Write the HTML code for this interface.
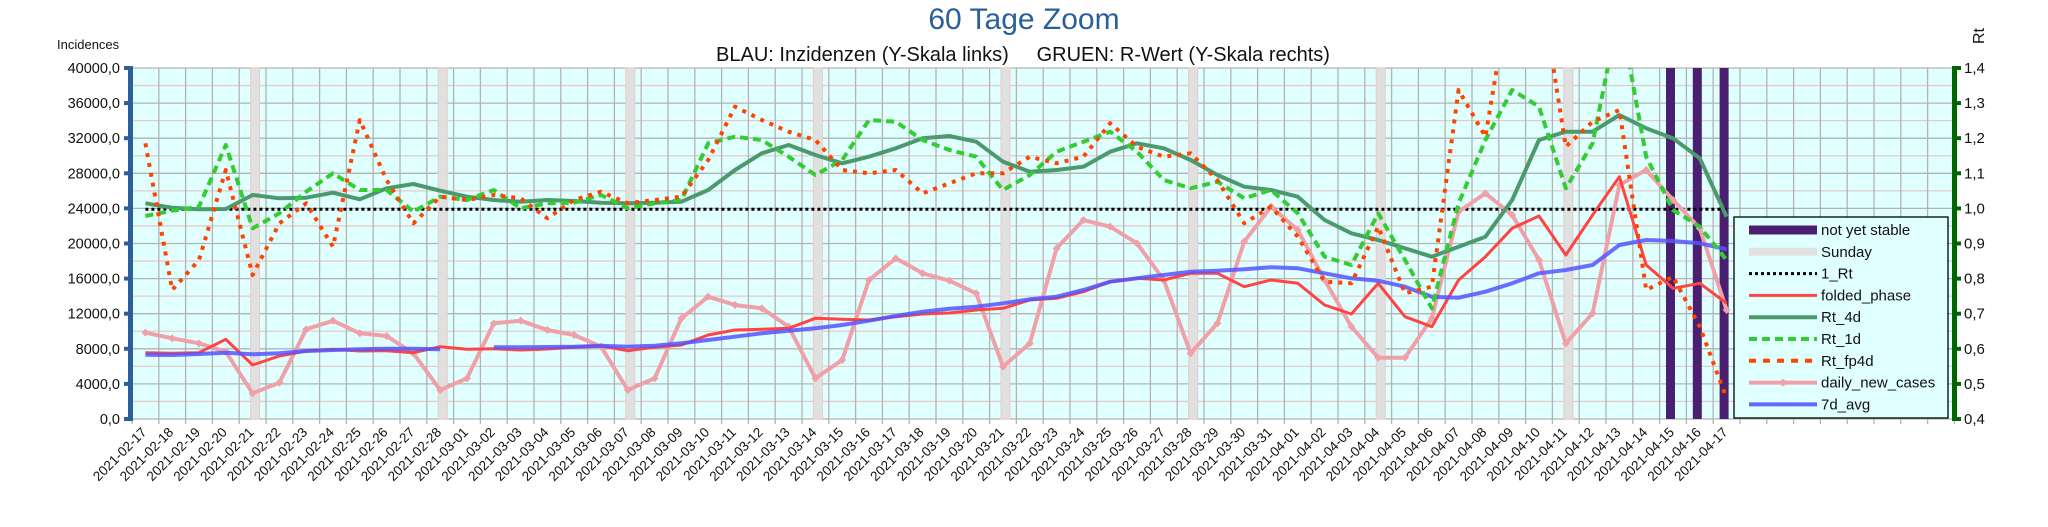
<!DOCTYPE html>
<html><head><meta charset="utf-8">
<style>
html,body{margin:0;padding:0;background:#fff;}
svg{display:block;font-family:"Liberation Sans",sans-serif;}
</style></head>
<body>
<svg id="c" width="2048" height="527" xmlns="http://www.w3.org/2000/svg">
<defs><clipPath id="pc"><rect x="132" y="68" width="1822" height="351"/></clipPath></defs>
<text x="1024" y="29" font-size="30" fill="#2a6099" text-anchor="middle">60 Tage Zoom</text>
<text x="1023" y="61" font-size="20" fill="#111" text-anchor="middle" xml:space="preserve">BLAU: Inzidenzen (Y-Skala links)     GRUEN: R-Wert (Y-Skala rechts)</text>
<text x="57" y="49" font-size="13" fill="#111">Incidences</text>
<text transform="translate(1984,44) rotate(-90)" font-size="16" fill="#111">Rt</text>
<rect x="132" y="68" width="1822" height="351" fill="#e0ffff"/>
<g id="grid"></g>
<g id="bands"></g>
<g id="series" clip-path="url(#pc)"></g>
<g id="axes"></g>
<g id="xl"></g>
<g id="legend"></g>
</svg>
<script>
var NS="http://www.w3.org/2000/svg";
function el(p,t,a,txt){var e=document.createElementNS(NS,t);for(var k in a)e.setAttribute(k,a[k]);if(txt!=null)e.textContent=txt;document.getElementById(p).appendChild(e);return e;}
var L=132,R=1954,T=68,B=419;
for(var k=0;k<=20;k++){var y=T+k*(B-T)/20;el("grid","line",{x1:L,x2:R,y1:y,y2:y,stroke:k%2?"#e2cccc":"#b3b3b3","stroke-width":1.3});}
for(var k=0;k<=68;k++){var x=L+k*26.8;el("grid","line",{x1:x,x2:x,y1:T,y2:B+5,stroke:"#b3b3b3","stroke-width":1.3});}
function cx(i){return 145.4+26.8*i;}
[4,11,18,25,32,39,46,53].forEach(function(i){el("bands","rect",{x:cx(i)-2,y:T,width:9,height:B-T,fill:"#dfe0e0",stroke:"#f0c8c8","stroke-width":1});});
[57,58,59].forEach(function(i){el("bands","rect",{x:cx(i)-7,y:T,width:9,height:B-T,fill:"#4b1f6f"});});
function cv(a){return a.map(function(v){return v==null?null:60+v/3;});}
var S={
r4:[430,443,448,447,405,415,413,398,418,385,372,392,410,420,425,420,
    423,428,430,428,425,390,330,280,255,285,310,290,265,235,228,
    245,305,335,330,320,275,250,265,300,345,380,390,410,480,520,
    540,565,590,560,530,420,240,215,215,165,205,235,295,470],
r1:[468,452,440,255,505,460,395,340,390,390,455,410,420,390,445,430,
    428,405,445,430,420,250,230,240,290,345,300,180,185,240,270,
    290,390,345,275,245,215,275,360,385,365,415,390,460,590,615,
    460,600,745,430,240,90,140,385,250,-150,290,450,500,600],
fp:[250,690,600,330,645,490,430,560,180,360,490,410,420,405,415,475,
    420,395,430,420,410,300,140,180,215,240,330,340,330,400,370,
    340,340,290,310,290,190,260,290,280,360,490,440,530,665,670,
    500,700,680,90,230,-250,-250,260,185,150,690,650,800,1015],
pk:[818,835,850,875,1000,968,808,782,820,828,880,990,955,790,782,810,
    825,860,990,955,775,710,735,745,800,955,900,660,595,640,662,
    700,920,850,565,480,500,550,660,880,790,545,440,510,660,800,
    893,893,775,455,400,465,600,850,760,375,330,420,505,750],
rd:[878,880,878,838,915,888,873,868,873,872,878,860,868,866,870,867,
    862,858,872,862,855,825,810,808,805,775,778,780,770,762,759,
    750,745,720,715,695,665,655,660,640,640,680,660,670,735,762,
    670,770,800,660,590,505,468,585,465,350,615,685,670,730],
bl:[884,885,882,878,883,880,873,870,868,866,866,868,null,862,862,861,
    860,857,860,857,850,840,830,820,812,805,795,782,768,755,746,
    740,730,718,710,690,665,655,645,635,632,628,622,625,640,655,
    662,680,710,713,695,670,640,630,615,555,540,543,550,568]
};
function line(data,attrs){var pts=[],segs=[];cv(data).forEach(function(v,i){if(v==null){if(pts.length)segs.push(pts);pts=[];}else pts.push(cx(i).toFixed(1)+","+v.toFixed(1));});if(pts.length)segs.push(pts);
segs.forEach(function(p){var a={points:p.join(" "),fill:"none","stroke-linejoin":"round"};for(var k in attrs)a[k]=attrs[k];el("series","polyline",a);});}
el("series","line",{x1:cx(0),x2:cx(59),y1:209.3,y2:209.3,stroke:"#000","stroke-width":3,"stroke-dasharray":"3,3"});
line(S.pk,{stroke:"#f0a0a8","stroke-width":4});
cv(S.pk).forEach(function(v,i){var x=cx(i);el("series","polygon",{points:(x-4)+","+v+" "+x+","+(v-4)+" "+(x+4)+","+v+" "+x+","+(v+4),fill:"#f0a0a8"});});
line(S.rd,{stroke:"#ff4444","stroke-width":3});
line(S.bl,{stroke:"#5555ff","stroke-width":4,"stroke-opacity":0.85});
line(S.r4,{stroke:"#4a9a6e","stroke-width":4});
line(S.r1,{stroke:"#33cc33","stroke-width":4,"stroke-dasharray":"8,5"});
line(S.fp,{stroke:"#ff4400","stroke-width":4,"stroke-dasharray":"4,6"});
el("axes","rect",{x:128,y:T-2,width:5,height:B-T+4,fill:"#2a6099"});
el("axes","rect",{x:1952,y:T-2,width:5,height:B-T+4,fill:"#006400"});
for(var k=0;k<=10;k++){var y=T+k*(B-T)/10;
 el("axes","rect",{x:124,y:y-2,width:6,height:4,fill:"#2a6099"});
 el("axes","rect",{x:1955,y:y-2,width:6,height:4,fill:"#006400"});
 el("axes","text",{x:120,y:y+5,"font-size":14.5,"text-anchor":"end",fill:"#111"},(40000-k*4000)+",0");
 el("axes","text",{x:1964,y:y+5,"font-size":15,fill:"#111"},(1.4-k*0.1).toFixed(1).replace(".",","));
}
var d0=new Date(Date.UTC(2021,1,17));
for(var i=0;i<60;i++){var d=new Date(d0.getTime()+i*86400000);var s=d.toISOString().slice(0,10);var x=cx(i)+2,y=433;
 el("xl","text",{x:x,y:y,"font-size":13.5,"text-anchor":"end",fill:"#111",transform:"rotate(-45 "+x+" "+y+")"},s);}
el("legend","rect",{x:1734,y:217,width:214,height:201,fill:"#e0ffff",stroke:"#000","stroke-width":1.3});
var items=[["not yet stable",{stroke:"#4b1f6f","stroke-width":9}],["Sunday",{stroke:"#e0e0e0","stroke-width":8}],["1_Rt",{stroke:"#000","stroke-width":3,"stroke-dasharray":"3,3"}],["folded_phase",{stroke:"#ff4444","stroke-width":3}],["Rt_4d",{stroke:"#4a9a6e","stroke-width":4}],["Rt_1d",{stroke:"#33cc33","stroke-width":4,"stroke-dasharray":"8,5"}],["Rt_fp4d",{stroke:"#ff4400","stroke-width":4,"stroke-dasharray":"7,7"}],["daily_new_cases",{stroke:"#f0a0a8","stroke-width":4}],["7d_avg",{stroke:"#6666ff","stroke-width":4}]];
items.forEach(function(it,j){var y=230+j*21.8;var a={x1:1749,x2:1817,y1:y,y2:y};for(var k in it[1])a[k]=it[1][k];el("legend","line",a);
 if(j==7)el("legend","polygon",{points:"1779,"+y+" 1783,"+(y-4)+" 1787,"+y+" 1783,"+(y+4),fill:"#f0a0a8"});
 el("legend","text",{x:1821,y:y+5,"font-size":15,fill:"#111"},it[0]);});
</script>
</body></html>
